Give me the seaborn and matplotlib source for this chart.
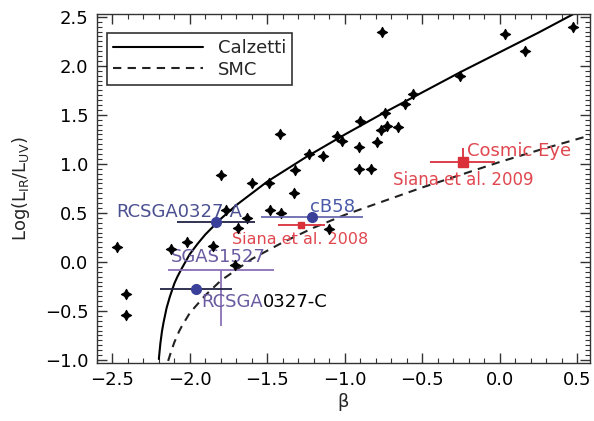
import matplotlib
matplotlib.use("Agg")
import matplotlib.pyplot as plt
import seaborn as sns
import pandas as pd
from matplotlib.ticker import MultipleLocator

# ---- data ----
star_beta = [-0.76, 0.03, 0.16, 0.47, -0.26, -0.56, -0.61, -0.74, -0.90, -0.77,
             -0.73, -0.66, -1.05, -1.02, -0.91, -0.79, -1.23, -1.14, -1.32, -0.91,
             -0.83, -1.33, -1.41, -1.10, -1.42, -1.80, -1.60, -1.49, -1.48, -1.77,
             -1.63, -1.69, -2.47, -2.02, -2.12, -1.85, -1.71, -2.41, -2.41]
star_irx = [2.35, 2.33, 2.15, 2.40, 1.90, 1.71, 1.61, 1.52, 1.44, 1.35,
            1.39, 1.38, 1.28, 1.23, 1.17, 1.22, 1.10, 1.08, 0.94, 0.95,
            0.95, 0.70, 0.50, 0.34, 1.30, 0.89, 0.81, 0.81, 0.53, 0.53,
            0.45, 0.35, 0.15, 0.20, 0.13, 0.16, -0.03, -0.33, -0.54]

calz_beta = [-2.20, -2.19, -2.18, -2.17, -2.15, -2.13, -2.10, -2.08, -2.05, -2.00,
             -1.95, -1.90, -1.80, -1.70, -1.60, -1.50, -1.25, -1.00, -0.75, -0.50,
             -0.25, 0.00, 0.25, 0.50]
calz_irx = [-0.99, -0.83, -0.71, -0.62, -0.47, -0.36, -0.22, -0.15, -0.06, 0.08,
            0.185, 0.28, 0.44, 0.58, 0.70, 0.82, 1.07, 1.30, 1.52, 1.73,
            1.94, 2.14, 2.34, 2.55]

smc_beta = [-2.14, -2.12, -2.10, -2.07, -2.05, -2.00, -1.90, -1.80, -1.60, -1.40,
            -1.20, -1.00, -0.75, -0.50, -0.25, 0.00, 0.25, 0.58]
smc_irx = [-1.01, -0.91, -0.82, -0.71, -0.65, -0.52, -0.34, -0.19, 0.03, 0.20,
           0.35, 0.48, 0.62, 0.76, 0.89, 1.02, 1.14, 1.29]

# special objects: beta, irx, xerr (, yerr)
rcsA = (-1.83, 0.41, 0.25)
rcsC = (-1.96, -0.28, 0.23)
cb58 = (-1.21, 0.46, 0.33)
siana08 = (-1.28, 0.38, 0.15)
ceye = (-0.24, 1.02, 0.21, 0.14)
sgas = (-1.80, -0.08, 0.34, 0.57)

legend_labels = ["Calzetti", "SMC"]

# ---- styling ----
sns.set_theme(style="ticks")
plt.rcParams["font.family"] = ["DejaVu Sans"]

fig = plt.figure(figsize=(5.94, 4.21), dpi=100)
ax = fig.add_axes([0.163, 0.138, 0.830, 0.829])

blue = "#3a3f9a"
navy_txt = "#4a4f8f"
red = "#d9303a"
red_txt = "#e0474f"
purple = "#8a70b8"

calz_df = pd.DataFrame({"beta": calz_beta, "irx": calz_irx})
smc_df = pd.DataFrame({"beta": smc_beta, "irx": smc_irx})
sns.lineplot(data=calz_df, x="beta", y="irx", ax=ax, color="black", lw=1.5,
             sort=False, estimator=None, label=legend_labels[0])
sns.lineplot(data=smc_df, x="beta", y="irx", ax=ax, color="#222222", lw=1.5,
             sort=False, estimator=None, label=legend_labels[1],
             dashes=False, linestyle=(0, (4, 3)))

stars = pd.DataFrame({"beta": star_beta, "irx": star_irx})
sns.scatterplot(data=stars, x="beta", y="irx", ax=ax, marker=(4, 1, 0),
                s=55, color="black", edgecolor="black", linewidth=0.8, zorder=4)

# error bars / objects
ax.errorbar(sgas[0], sgas[1], xerr=sgas[2], yerr=[[sgas[3]], [0]], fmt="none",
            ecolor=purple, elinewidth=1.3, capsize=0, zorder=3)
ax.errorbar(rcsA[0], rcsA[1], xerr=rcsA[2], fmt="o", color=blue, ms=7,
            ecolor="#222244", elinewidth=1.3, capsize=0, zorder=5)
ax.errorbar(rcsC[0], rcsC[1], xerr=rcsC[2], fmt="o", color=blue, ms=7,
            ecolor="#222244", elinewidth=1.3, capsize=0, zorder=5)
ax.errorbar(cb58[0], cb58[1], xerr=cb58[2], fmt="o", color=blue, ms=7,
            ecolor="#6a6ab0", elinewidth=1.3, capsize=0, zorder=5)
ax.errorbar(siana08[0], siana08[1], xerr=siana08[2], fmt="s", color=red, ms=5,
            ecolor=red, elinewidth=1.3, capsize=0, zorder=5)
ax.errorbar(ceye[0], ceye[1], xerr=ceye[2], yerr=[[0], [ceye[3]]], fmt="s",
            color=red, ms=7, ecolor=red, elinewidth=1.3, capsize=0, zorder=5)

# labels
ax.text(-2.474, 0.514, "RCSGA0327-A", color=navy_txt, fontsize=13, va="center", zorder=3)
ax.text(-1.227, 0.565, "cB58", color="#4a5aa8", fontsize=13, va="center", zorder=3)
ax.text(-1.73, 0.227, "Siana et al. 2008", color=red_txt, fontsize=11.5, va="center", zorder=3)
ax.text(-2.12, 0.055, "SGAS1527", color="#6a5aa0", fontsize=13, va="center", zorder=3)
t1 = ax.text(-1.925, -0.41, "RCSGA", color="#6a5aa0", fontsize=13, va="center", zorder=3)
ax.annotate("0327-C", xy=(1, 0.5), xycoords=t1, color="black", fontsize=13,
            va="center", ha="left", zorder=3)
ax.text(-0.212, 1.13, "Cosmic Eye", color=red_txt, fontsize=13, va="center", zorder=3)
ax.text(-0.69, 0.84, "Siana et al. 2009", color=red_txt, fontsize=12, va="center", zorder=3)

ax.set_xlim(-2.6, 0.58)
ax.set_ylim(-1.03, 2.53)
ax.xaxis.set_major_locator(MultipleLocator(0.5))
ax.xaxis.set_minor_locator(MultipleLocator(0.1))
ax.yaxis.set_major_locator(MultipleLocator(0.5))
ax.yaxis.set_minor_locator(MultipleLocator(0.05))
ax.xaxis.set_major_formatter(plt.FuncFormatter(lambda v, p: f"{v:.1f}".replace("-", "\u2212")))
ax.yaxis.set_major_formatter(plt.FuncFormatter(lambda v, p: f"{v:.1f}".replace("-", "\u2212")))
ax.tick_params(which="both", direction="in", top=True, right=True, colors="#333333",
               labelcolor="black")
ax.tick_params(which="major", length=7, width=1, labelsize=13, pad=6)
ax.tick_params(which="minor", length=3.5, width=0.8)
for s in ax.spines.values():
    s.set_color("#333333")
    s.set_linewidth(1)

ax.set_xlabel("\u03b2", fontsize=13, labelpad=3)
ax.set_ylabel("Log(L$_{\\rm IR}$/L$_{\\rm UV}$)", fontsize=13, labelpad=9)

leg = ax.legend(loc="upper left", bbox_to_anchor=(0.02, 0.946), borderaxespad=0,
                frameon=True, fancybox=False, edgecolor="black", fontsize=13,
                handlelength=5.0, handletextpad=0.8, borderpad=0.35,
                labelspacing=0.2)
leg.get_frame().set_linewidth(1.2)
leg.set_zorder(10)

fig.savefig("out.png", dpi=100)
